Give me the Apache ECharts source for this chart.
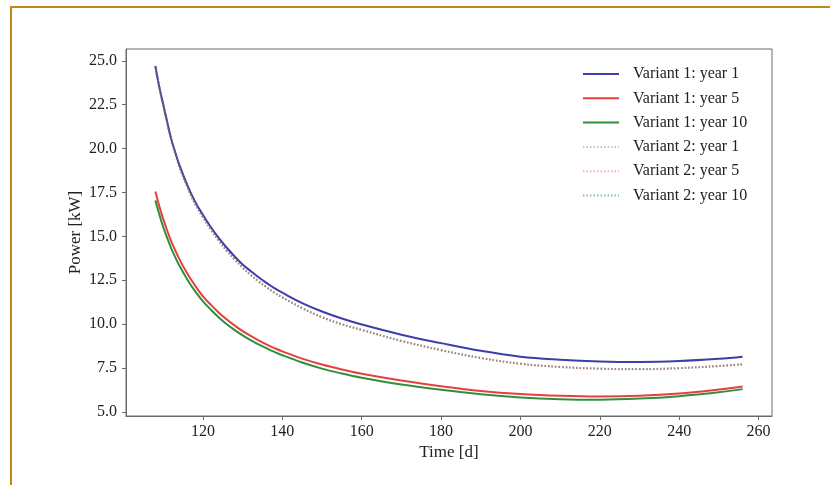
<!DOCTYPE html>
<html>
<head>
<meta charset="utf-8">
<script src="https://cdn.jsdelivr.net/npm/echarts@6/dist/echarts.min.js"></script>
<style>
html,body{margin:0;padding:0;background:#fff;}
#chart{width:830px;height:485px;}
</style>
</head>
<body>
<div id="chart"></div>
<script>
// Time [d]
const days = [108,109,110,111,112,113,114,116,118,120,122,124,126,128,130,132,134,136,138,140,145,150,155,160,170,180,190,200,210,220,230,240,250,256];
// Power [kW]
const v1y1  = [24.7,23.5,22.5,21.5,20.55,19.8,19.1,17.95,16.98,16.22,15.52,14.9,14.35,13.85,13.4,13.03,12.67,12.35,12.05,11.79,11.2,10.72,10.32,9.98,9.4,8.92,8.48,8.15,7.98,7.88,7.85,7.9,8.03,8.15];
const v1y5  = [17.55,16.72,15.98,15.32,14.72,14.21,13.73,12.9,12.2,11.58,11.1,10.65,10.26,9.92,9.6,9.33,9.08,8.85,8.64,8.45,8.04,7.7,7.42,7.18,6.79,6.47,6.2,6.02,5.92,5.88,5.92,6.05,6.28,6.45];
const v1y10 = [17.05,16.25,15.52,14.9,14.32,13.82,13.36,12.56,11.88,11.3,10.82,10.38,9.99,9.66,9.36,9.09,8.85,8.63,8.42,8.23,7.82,7.47,7.19,6.95,6.56,6.26,6.01,5.83,5.73,5.7,5.76,5.9,6.12,6.3];
const v2y1  = [24.68,23.47,22.46,21.45,20.49,19.72,19.0,17.85,16.87,16.1,15.39,14.76,14.19,13.68,13.22,12.81,12.44,12.11,11.8,11.53,10.92,10.4,10.0,9.68,9.05,8.53,8.08,7.75,7.57,7.47,7.44,7.5,7.62,7.72];
const v2y5  = [24.69,23.48,22.46,21.45,20.48,19.71,19.0,17.85,16.86,16.09,15.39,14.76,14.18,13.68,13.22,12.8,12.44,12.11,11.8,11.52,10.92,10.4,10.0,9.67,9.05,8.52,8.08,7.75,7.56,7.47,7.44,7.5,7.62,7.72];
const v2y10 = [24.67,23.46,22.45,21.44,20.48,19.71,18.99,17.84,16.86,16.09,15.38,14.75,14.18,13.67,13.21,12.8,12.43,12.1,11.79,11.52,10.91,10.39,9.99,9.67,9.04,8.52,8.07,7.74,7.56,7.46,7.43,7.49,7.61,7.71];

const seriesNames = ['Variant 1: year 1','Variant 1: year 5','Variant 1: year 10','Variant 2: year 1','Variant 2: year 5','Variant 2: year 10'];
const xTicks = [120,140,160,180,200,220,240,260];
const yTicks = [5.0,7.5,10.0,12.5,15.0,17.5,20.0,22.5,25.0];

const FONT = '"Liberation Serif", "DejaVu Serif", serif';
const TXT = '#222';
const AX = '#6a6a6a';

function pairs(vals){ return days.map((d,i)=>[d, vals[i]]); }

const colors = ['#3d3dab','#e5403c','#2f8f3e','#4a4ab8','#e8505a','#3a9a48'];
const allVals = [v1y1, v1y5, v1y10, v2y1, v2y5, v2y10];
const zOrder = [2, 2, 2, 3, 5, 4];
const dotOpacity = [1, 1, 1, 0.35, 0.45, 0.6];

const series = allVals.map((vals, i) => {
  const dotted = i >= 3;
  return {
    name: seriesNames[i],
    type: 'line',
    data: pairs(vals),
    showSymbol: false,
    symbol: 'none',
    smooth: 0.4,
    color: colors[i],
    lineStyle: dotted
      ? {width: 2, color: colors[i], type: [1.5, 2], opacity: dotOpacity[i]}
      : {width: 2, color: colors[i], type: 'solid'},
    z: zOrder[i],
    silent: true
  };
});

const chart = echarts.init(document.getElementById('chart'), null, {renderer: 'canvas'});
chart.setOption({
  animation: false,
  backgroundColor: '#fff',
  grid: {left: 126, right: 58, top: 49, bottom: 69, show: true, borderColor: AX, borderWidth: 1, backgroundColor: 'transparent'},
  xAxis: {
    type: 'value', min: 100.6, max: 263.4,
    name: 'Time [d]', nameLocation: 'middle', nameGap: 28, nameMoveOverlap: false,
    nameTextStyle: {fontFamily: FONT, fontSize: 17, color: TXT},
    axisLine: {show: true, onZero: false, lineStyle: {color: AX, width: 1}},
    axisTick: {show: true, length: 4, inside: false, customValues: xTicks, lineStyle: {color: AX}},
    axisLabel: {customValues: xTicks, margin: 8, fontFamily: FONT, fontSize: 16, color: TXT},
    splitLine: {show: false}
  },
  yAxis: {
    type: 'value', min: 4.77, max: 25.67,
    name: 'Power [kW]', nameLocation: 'middle', nameGap: 42, nameRotate: 90, nameMoveOverlap: false,
    nameTextStyle: {fontFamily: FONT, fontSize: 17, color: TXT},
    axisLine: {show: true, onZero: false, lineStyle: {color: AX, width: 1}},
    axisTick: {show: true, length: 4, inside: false, customValues: yTicks, lineStyle: {color: AX}},
    axisLabel: {customValues: yTicks, margin: 9, fontFamily: FONT, fontSize: 16, color: TXT,
      formatter: v => Number(v).toFixed(1)},
    splitLine: {show: false}
  },
  legend: {
    orient: 'vertical', left: 577, top: 61,
    itemWidth: 36, itemHeight: 14, itemGap: 8.3,
    itemStyle: {opacity: 0},
    textStyle: {fontFamily: FONT, fontSize: 16, color: TXT, lineHeight: 16, padding: [0,0,0,9]},
    data: seriesNames
  },
  graphic: [
    {type: 'line', shape: {x1: 11, y1: 7, x2: 11, y2: 485}, style: {stroke: '#c08a12', lineWidth: 2}, silent: true},
    {type: 'line', shape: {x1: 10, y1: 7, x2: 830, y2: 7}, style: {stroke: '#c08a12', lineWidth: 2}, silent: true}
  ],
  series: series
});
</script>
</body>
</html>
